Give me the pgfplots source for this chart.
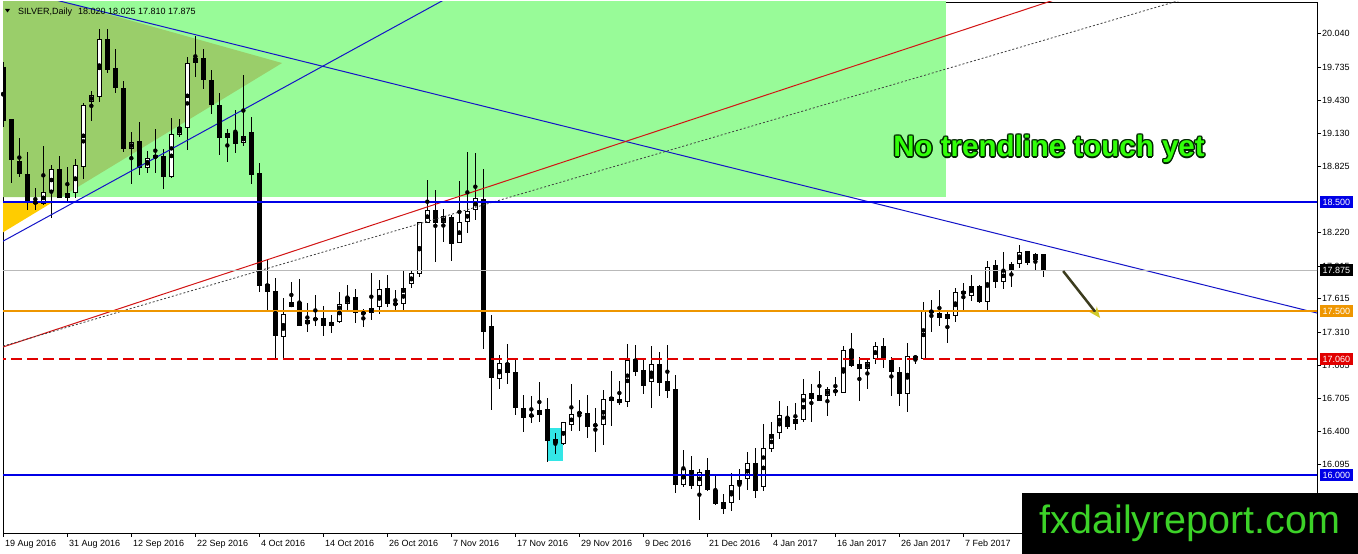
\documentclass[border=0pt]{standalone}
\usepackage{fontspec}
\setmainfont{Liberation Sans}
\usepackage{pgfplots}
\usepackage{pgfplotstable}
\pgfplotsset{compat=1.18}
\usetikzlibrary{arrows.meta}

\definecolor{mtgreen}{RGB}{152,251,152}
\definecolor{mtolive}{RGB}{154,206,106}
\definecolor{mtgold}{RGB}{255,204,0}
\definecolor{mtblue}{RGB}{0,0,230}
\definecolor{mtline}{RGB}{20,20,200}
\definecolor{lvlorange}{RGB}{238,150,0}
\definecolor{lvlred}{RGB}{225,0,0}
\definecolor{trendred}{RGB}{210,20,20}
\definecolor{mtcyan}{RGB}{51,230,230}
\definecolor{lvlgray}{RGB}{185,185,185}
\definecolor{txtgreen}{RGB}{50,255,10}
\definecolor{urlgreen}{RGB}{60,210,40}
\definecolor{arrowdark}{RGB}{60,60,30}

% daily bars: index (0 = 19 Aug 2016), open, high, low, close
\pgfplotstableread{
i o h l c
0 19.740 19.780 19.190 19.240
1 19.257 19.260 18.671 18.885
2 18.876 19.083 18.732 18.754
3 18.757 18.955 18.427 18.494
4 18.503 18.625 18.427 18.488
5 18.482 19.016 18.473 18.595
6 18.604 18.839 18.351 18.799
7 18.802 18.921 18.534 18.540
8 18.534 18.824 18.503 18.586
9 18.586 18.891 18.540 18.836
10 18.824 19.404 18.708 19.389
11 19.419 19.517 19.245 19.477
12 19.465 20.082 19.419 19.993
13 19.993 20.082 19.679 19.709
14 19.724 19.898 19.501 19.547
15 19.541 19.611 18.961 18.982
16 18.982 19.138 18.665 19.053
17 19.059 19.236 18.747 18.809
18 18.809 18.970 18.763 18.900
19 18.900 19.172 18.769 18.931
20 18.921 18.982 18.616 18.726
21 18.726 19.266 18.717 19.120
22 19.111 19.257 19.092 19.184
23 19.175 19.831 18.976 19.770
24 19.770 20.020 19.648 19.816
25 19.816 19.898 19.535 19.617
26 19.617 19.709 19.303 19.389
27 19.389 19.495 18.931 19.083
28 19.083 19.166 18.870 19.135
29 19.138 19.343 18.946 19.031
30 19.044 19.663 19.013 19.108
31 19.138 19.275 18.665 18.751
32 18.769 18.860 17.679 17.734
33 17.749 17.969 17.505 17.679
34 17.685 17.801 17.062 17.276
35 17.267 17.618 17.062 17.474
36 17.535 17.764 17.535 17.581
37 17.581 17.792 17.367 17.367
38 17.380 17.572 17.313 17.416
39 17.435 17.648 17.367 17.419
40 17.435 17.548 17.276 17.367
41 17.364 17.465 17.303 17.404
42 17.404 17.673 17.389 17.563
43 17.563 17.740 17.511 17.633
44 17.633 17.700 17.388 17.480
45 17.471 17.517 17.352 17.490
46 17.480 17.847 17.419 17.526
47 17.535 17.786 17.474 17.700
48 17.709 17.832 17.535 17.563
49 17.572 17.694 17.505 17.560
50 17.563 17.868 17.505 17.709
51 17.749 17.877 17.709 17.847
52 17.838 18.320 17.816 18.314
53 18.305 18.702 18.305 18.427
54 18.427 18.610 17.954 18.305
55 18.305 18.433 18.137 18.372
56 18.366 18.381 17.963 18.112
57 18.122 18.696 18.122 18.317
58 18.317 18.958 18.219 18.421
59 18.427 18.946 18.335 18.534
60 18.525 18.799 17.151 17.313
61 17.364 17.465 16.595 16.885
62 16.876 17.099 16.784 17.023
63 17.023 17.200 16.830 16.931
64 16.940 17.053 16.549 16.615
65 16.611 16.733 16.397 16.519
66 16.550 16.724 16.479 16.540
67 16.546 16.849 16.488 16.595
68 16.601 16.702 16.122 16.314
69 16.327 16.382 16.192 16.290
70 16.281 16.490 16.275 16.482
71 16.455 16.833 16.406 16.556
72 16.571 16.687 16.406 16.565
73 16.565 16.733 16.336 16.443
74 16.458 16.617 16.214 16.454
75 16.455 16.778 16.275 16.693
76 16.711 16.953 16.449 16.681
77 16.693 16.861 16.641 16.662
78 16.672 17.200 16.620 17.053
79 17.059 17.191 16.907 16.946
80 16.962 17.059 16.742 16.815
81 16.855 17.181 16.617 17.017
82 17.017 17.123 16.723 16.846
83 16.861 17.191 16.702 16.772
84 16.785 16.916 15.838 15.908
85 15.908 16.229 15.893 16.052
86 16.046 16.174 15.869 15.899
87 15.899 16.052 15.588 16.031
88 16.046 16.153 15.856 15.863
89 15.863 16.000 15.725 15.734
90 15.756 15.823 15.643 15.686
91 15.740 16.015 15.670 15.908
92 15.914 16.052 15.771 15.954
93 15.963 16.207 15.863 16.107
94 16.107 16.244 15.786 15.856
95 15.887 16.464 15.856 16.244
96 16.235 16.488 16.214 16.372
97 16.382 16.678 16.330 16.549
98 16.534 16.632 16.418 16.443
99 16.464 16.663 16.412 16.510
100 16.504 16.879 16.489 16.739
101 16.748 16.830 16.489 16.693
102 16.681 16.953 16.678 16.733
103 16.727 16.809 16.543 16.785
104 16.779 16.901 16.727 16.757
105 16.754 17.182 16.754 17.145
106 17.154 17.298 16.986 16.998
107 17.014 17.078 16.681 16.968
108 16.968 17.075 16.785 17.038
109 17.059 17.221 17.017 17.185
110 17.185 17.252 16.977 17.059
111 17.053 17.078 16.727 16.946
112 16.940 16.992 16.635 16.742
113 16.739 17.206 16.580 17.093
114 17.093 17.100 17.014 17.062
115 17.062 17.588 17.062 17.505
116 17.505 17.603 17.313 17.487
117 17.481 17.694 17.365 17.435
118 17.426 17.505 17.206 17.472
119 17.459 17.710 17.404 17.679
120 17.685 17.756 17.502 17.655
121 17.643 17.832 17.594 17.734
122 17.731 17.740 17.578 17.588
123 17.588 17.963 17.505 17.902
124 17.923 17.969 17.710 17.771
125 17.771 18.039 17.704 17.878
126 17.875 17.954 17.719 17.933
127 17.933 18.107 17.893 18.046
128 18.052 18.055 17.923 17.939
129 17.969 18.036 17.872 18.024
130 18.020 18.025 17.810 17.875
}\candles

\begin{document}
\begin{tikzpicture}[font=\fontsize{9}{10}\selectfont]
\path[use as bounding box] (0,0) rectangle (1358pt,554pt);
\begin{axis}[
    at={(3pt,21pt)}, anchor=south west,
    width=1314pt, height=531pt, scale only axis,
    xmin=-0.04, xmax=164.2,
    ymin=15.469, ymax=20.332,
    axis background/.style={fill=white},
    axis line style={black, line width=0.8pt},
    tick style={black, line width=0.8pt},
    tick align=outside, major tick length=4pt,
    xtick pos=lower, ytick pos=right,
    yticklabel pos=right,
    xtick={0,8,...,120},
    xticklabels={19 Aug 2016, 31 Aug 2016, 12 Sep 2016, 22 Sep 2016, 4 Oct 2016,
        14 Oct 2016, 26 Oct 2016, 7 Nov 2016, 17 Nov 2016, 29 Nov 2016,
        9 Dec 2016, 21 Dec 2016, 4 Jan 2017, 16 Jan 2017, 26 Jan 2017, 7 Feb 2017},
    xticklabel style={anchor=north west, inner sep=0pt, xshift=1.5pt, yshift=-3pt},
    ytick={20.040,19.735,19.430,19.130,18.825,18.220,17.915,17.615,17.310,17.005,16.705,16.400,16.095,15.790},
    yticklabels={20.040,19.735,19.430,19.130,18.825,18.220,17.915,17.615,17.310,17.005,16.705,16.400,16.095,15.790},
    yticklabel style={anchor=west, inner sep=0pt, xshift=1pt},
    clip=true,
]
% background objects
\addplot[fill=mtgreen, draw=none, forget plot] coordinates {(-1,18.546) (117.84,18.546) (117.84,21) (-1,21)} -- cycle;
\addplot[fill=mtolive, draw=none, forget plot] coordinates {(-1,20.51) (34.84,19.773) (7.24,18.546) (-1,18.546)} -- cycle;
\addplot[fill=mtgold, draw=none, forget plot] coordinates {(5.98,18.49) (-1,18.18) (-1,18.49)} -- cycle;
\addplot[fill=mtcyan, draw=none, forget plot] coordinates {(68,16.128) (70,16.128) (70,16.433) (68,16.433)} -- cycle;

% candles: wicks, bodies, white fills
\addplot[black, only marks, mark=none, forget plot,
    error bars/.cd, y dir=both, y explicit, error mark=none,
    error bar style={black, line width=1pt}]
    table[x=i, y expr={(\thisrow{h}+\thisrow{l})/2}, y error expr={(\thisrow{h}-\thisrow{l})/2}] {\candles};
\addplot[black, only marks, mark=none, forget plot,
    error bars/.cd, y dir=both, y explicit, error mark=none,
    error bar style={black, line width=5.5pt}]
    table[x=i, y expr={(\thisrow{o}+\thisrow{c})/2}, y error expr={max(abs(\thisrow{o}-\thisrow{c})/2,0.006)}] {\candles};
\addplot[black, only marks, mark=none, forget plot,
    error bars/.cd, y dir=both, y explicit, error mark=none,
    error bar style={white, line width=3.5pt}]
    table[x=i, y expr={(\thisrow{o}+\thisrow{c})/2}, y error expr={ifthenelse(\thisrow{c}>\thisrow{o}, max(abs(\thisrow{o}-\thisrow{c})/2-0.0092,0), 0)}] {\candles};

% trendlines
\addplot[color=mtline, line width=1pt, forget plot] coordinates {(0,20.469) (165,17.469)};
\addplot[color=mtline, line width=1pt, forget plot] coordinates {(-1,18.103) (60,20.549)};
\addplot[color=trendred, line width=1pt, forget plot] coordinates {(-1,17.149) (140,20.56)};
\addplot[color=black!75, line width=0.8pt, dash pattern=on 2pt off 2pt, forget plot] coordinates {(-1,17.16) (160,20.626)};

% horizontal levels
\draw[lvlgray, line width=1pt] (axis cs:-1,17.875) -- (axis cs:170,17.875);
\draw[lvlorange, line width=1.6pt] (axis cs:-1,17.5) -- (axis cs:170,17.5);
\draw[lvlred, line width=1.6pt, dash pattern=on 11pt off 5pt] (axis cs:-1,17.06) -- (axis cs:170,17.06);
\addplot[color=mtblue, line width=2.6pt, forget plot] coordinates {(-1,18.5) (170,18.5)};
\addplot[color=mtblue, line width=2.6pt, forget plot] coordinates {(-1,16.0) (170,16.0)};

% arrow
\addplot[color=arrowdark, line width=2.5pt, -{Stealth[length=11pt, width=9pt, fill=yellow, color=yellow!80!black]}, forget plot]
    coordinates {(132.47,17.868) (137.09,17.438)};

\coordinate (b1850) at (axis cs:164.2,18.5);
\coordinate (b1787) at (axis cs:164.2,17.875);
\coordinate (b1750) at (axis cs:164.2,17.5);
\coordinate (b1706) at (axis cs:164.2,17.06);
\coordinate (b1600) at (axis cs:164.2,16.0);
\end{axis}

% price labels on the right scale
\tikzset{pricebox/.style={anchor=west, text=white, inner xsep=2.5pt, inner ysep=0pt,
    minimum height=12pt, text depth=0pt, font=\fontsize{9}{10}\selectfont}}
\node[pricebox, fill=mtblue] at ([xshift=3pt]b1850) {18.500};
\node[pricebox, fill=black] at ([xshift=3pt]b1787) {17.875};
\node[pricebox, fill=lvlorange] at ([xshift=3pt]b1750) {17.500};
\node[pricebox, fill=lvlred] at ([xshift=3pt]b1706) {17.060};
\node[pricebox, fill=mtblue] at ([xshift=3pt]b1600) {16.000};

% chart title
\fill[black] (5pt,545pt) -- (10pt,545pt) -- (7.5pt,541.5pt) -- cycle;
\node[anchor=base west, inner sep=0pt] at (18pt,539.5pt) {SILVER,Daily\hspace{6pt}18.020 18.025 17.810 17.875};

% annotation text
\def\notetext{\fontsize{29.5}{31}\selectfont\bfseries No trendline touch yet}
\foreach \dx/\dy in {-1.4/0,1.4/0,0/-1.4,0/1.4,-1/-1,1/1,-1/1,1/-1}{
  \node[text=black!85!green] at ([shift={(\dx pt,\dy pt)}]1049pt,405pt) {\notetext};
}
\node[text=txtgreen] at (1049pt,405pt) {\notetext};

% watermark box
\fill[black] (1022pt,0pt) rectangle (1358pt,61pt);
\node[text=urlgreen, font=\fontsize{39.5}{40}\selectfont] at (1190pt,31pt) {fxdailyreport.com};
\end{tikzpicture}
\end{document}
